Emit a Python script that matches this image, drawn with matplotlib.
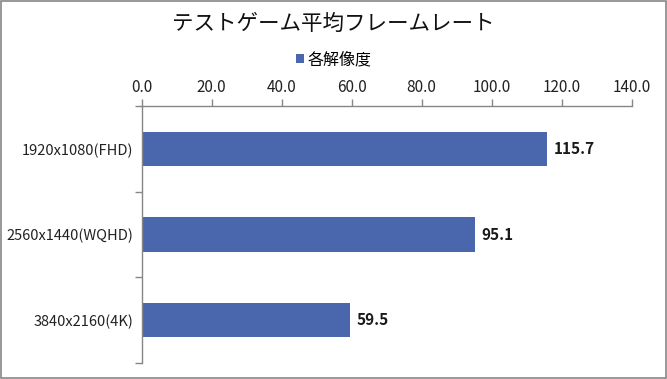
import matplotlib
matplotlib.use("Agg")
import matplotlib.pyplot as plt
from matplotlib.patches import Rectangle
from matplotlib.ticker import FixedLocator

plt.rcParams['font.family'] = ['Noto Sans CJK JP', 'DejaVu Sans']

# data
categories = ['1920x1080(FHD)', '2560x1440(WQHD)', '3840x2160(4K)']
values = [115.7, 95.1, 59.5]
x_ticks = [0, 20, 40, 60, 80, 100, 120, 140]
series_name = '各解像度'
title = 'テストゲーム平均フレームレート'

bar_color = '#4a67ad'
axis_color = '#868686'

fig = plt.figure(figsize=(6.67, 3.79), dpi=100)
ax = fig.add_axes([0.2124, 0.042, 0.7346, 0.678])

pos = list(range(len(categories)))
ax.barh(pos, values, height=0.4, color=bar_color, label=series_name)
ax.set_ylim(len(categories) - 0.5, -0.5)
ax.set_xlim(0, 140)

# value labels
for p, v in zip(pos, values):
    ax.text(v + 2.0, p, f'{v:.1f}', va='center', ha='left', fontsize=11,
            fontweight='bold', color='#1a1a1a')

# x axis on top
ax.xaxis.tick_top()
ax.set_xticks(x_ticks)
ax.set_xticklabels([f'{t:.1f}' for t in x_ticks], fontsize=11, color='#222222')
ax.tick_params(axis='x', direction='out', length=5, width=1, color=axis_color, pad=2)

# y ticks at category boundaries, labels centered
ax.set_yticks(pos)
ax.set_yticklabels(categories, fontsize=10.5, color='#222222')
ax.tick_params(axis='y', which='major', length=0, pad=6)
ax.yaxis.set_minor_locator(FixedLocator([-0.5, 0.5, 1.5, 2.5]))
ax.tick_params(axis='y', which='minor', direction='out', length=5, width=1, color=axis_color)

for s in ['right', 'bottom']:
    ax.spines[s].set_visible(False)
for s in ['left', 'top']:
    ax.spines[s].set_color(axis_color)
    ax.spines[s].set_linewidth(1)

fig.text(0.5, 0.938, title, ha='center', va='center', fontsize=15.5, color='#111111')

# legend
fig.legend(loc='center', bbox_to_anchor=(0.5, 0.842), frameon=False,
           handlelength=0.5, handleheight=0.5, handletextpad=0.2,
           prop={'size': 11.5})

# outer border
fig.patches.append(Rectangle((0.001, 0.002), 0.997, 0.996, transform=fig.transFigure,
                             fill=False, edgecolor=axis_color, linewidth=1.2))

fig.savefig('out.png', dpi=100)
